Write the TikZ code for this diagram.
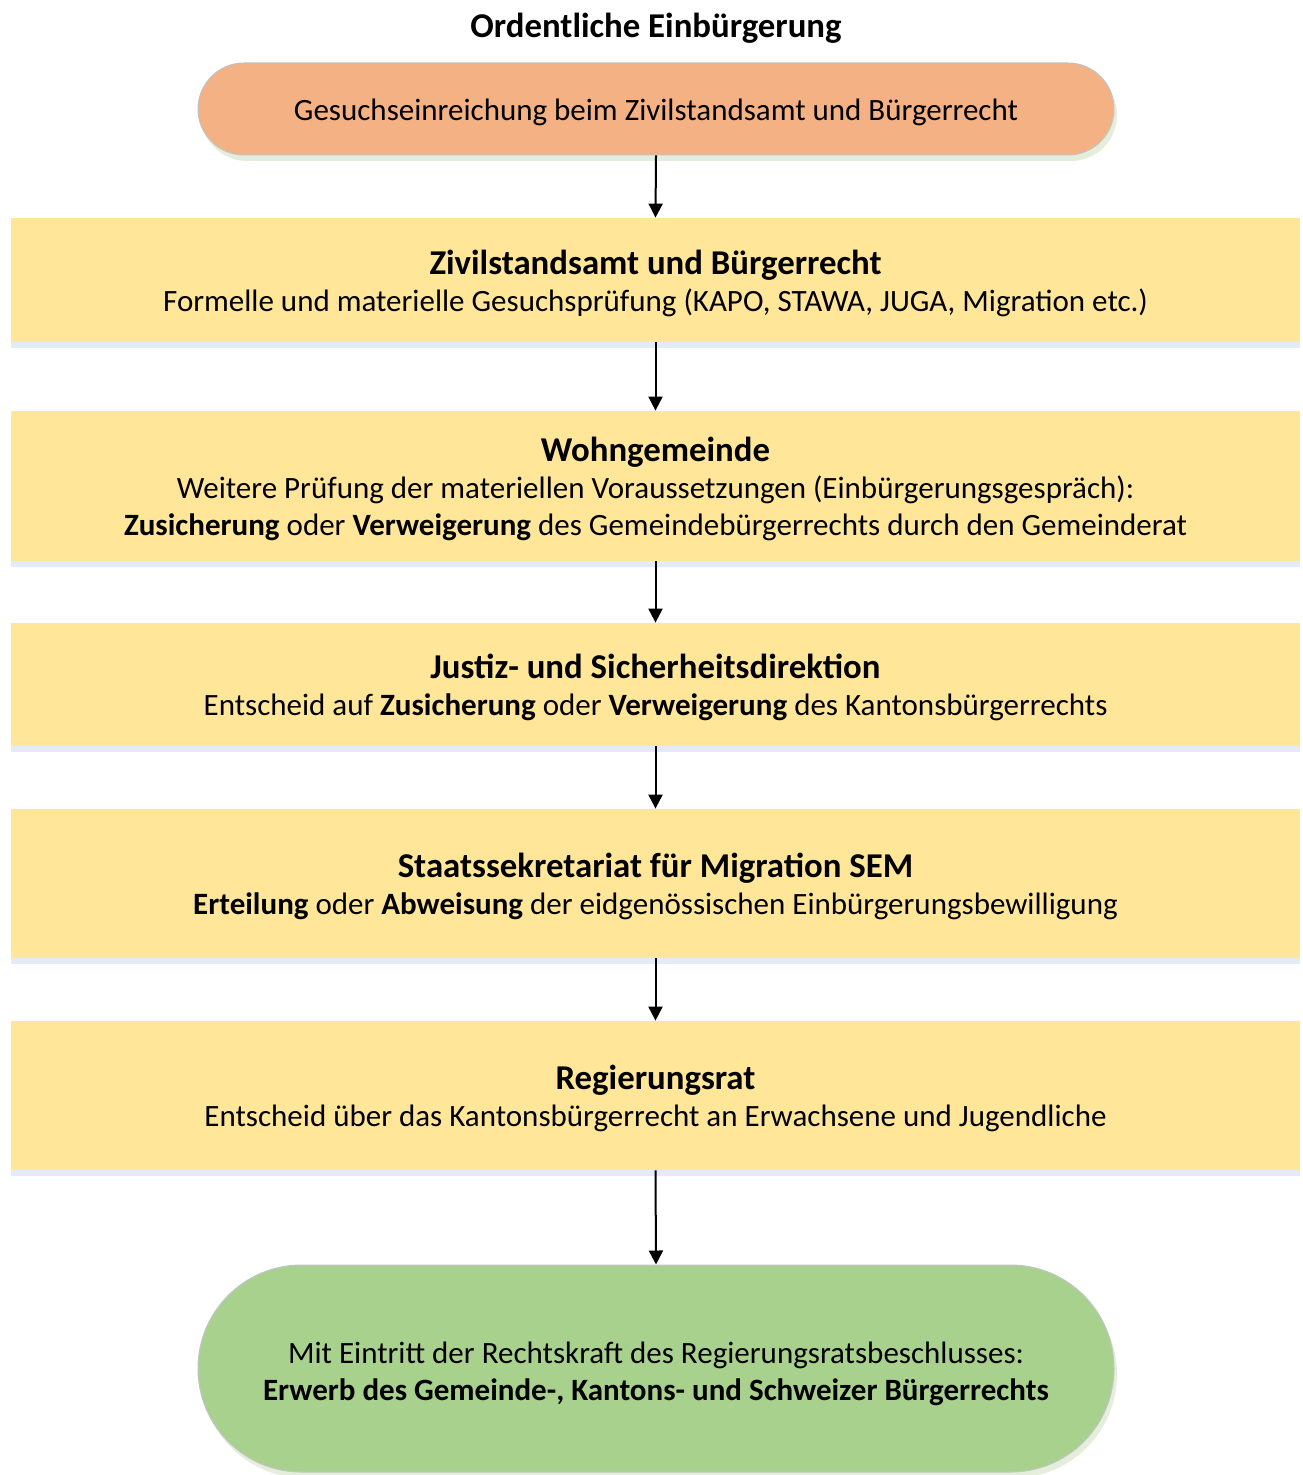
\documentclass[tikz,border=0pt]{standalone}
\usepackage{fontspec}
\setmainfont{Carlito}
\usetikzlibrary{shapes.misc,shadows,arrows.meta}
\definecolor{boxfill}{HTML}{FFE699}
\definecolor{startfill}{HTML}{F4B183}
\definecolor{endfill}{HTML}{A9D18E}
\definecolor{pillborder}{HTML}{BFC4C8}
\definecolor{blueshadow}{HTML}{E2EBF6}
\definecolor{greenshadow}{HTML}{E4EEDB}
\newcommand{\bodyfont}{\fontsize{15.5}{18.5}\selectfont}
\newcommand{\headfont}{\fontsize{17.4}{19.5}\selectfont\bfseries}
\newcommand{\lift}[1]{\rule{0pt}{#1}}
\tikzset{
  stepbox/.style={rectangle, fill=boxfill, draw=none, minimum width=644.5pt,
    align=center, font=\bodyfont, inner sep=0pt,
    drop shadow={shadow xshift=0pt, shadow yshift=-3pt, fill=blueshadow, opacity=1}},
  pillbox/.style={rounded rectangle, draw=pillborder, line width=0.5pt,
    minimum width=458pt, align=center, font=\bodyfont, inner sep=0pt,
    drop shadow={shadow xshift=1.5pt, shadow yshift=-3pt, fill=greenshadow, opacity=1}},
  flow/.style={line width=1pt, -{Triangle[length=7pt,width=7pt]}},
  titletext/.style={font=\headfont}
}
\begin{document}
\begin{tikzpicture}[x=0.5pt,y=-0.5pt]
\useasboundingbox (0,0) rectangle (1302,1475);
\node[titletext] (title) at (656,28) {Ordentliche Einbürgerung};
\node[pillbox, fill=startfill, minimum height=46pt] (start) at (656,109)
  {\lift{14pt}Gesuchseinreichung beim Zivilstandsamt und Bürgerrecht};
\node[stepbox, minimum height=62pt] (b1) at (655.5,280)
  {{\headfont\lift{15.5pt}Zivilstandsamt und Bürgerrecht}\\
   Formelle und materielle Gesuchsprüfung (KAPO, STAWA, JUGA, Migration etc.)};
\node[stepbox, minimum height=75pt] (b2) at (655.5,486)
  {{\headfont\lift{15.5pt}Wohngemeinde}\\
   Weitere Prüfung der materiellen Voraussetzungen (Einbürgerungsgespräch):\\
   \textbf{Zusicherung} oder \textbf{Verweigerung} des Gemeindebürgerrechts durch den Gemeinderat};
\node[stepbox, minimum height=61.5pt] (b3) at (655.5,684.5)
  {{\headfont\lift{15.5pt}Justiz- und Sicherheitsdirektion}\\
   Entscheid auf \textbf{Zusicherung} oder \textbf{Verweigerung} des Kantonsbürgerrechts};
\node[stepbox, minimum height=74.5pt] (b4) at (655.5,883.5)
  {{\headfont\lift{15.5pt}Staatssekretariat für Migration SEM}\\
   \textbf{Erteilung} oder \textbf{Abweisung} der eidgenössischen Einbürgerungsbewilligung};
\node[stepbox, minimum height=74.5pt] (b5) at (655.5,1095.5)
  {{\headfont\lift{15.5pt}Regierungsrat}\\
   Entscheid über das Kantonsbürgerrecht an Erwachsene und Jugendliche};
\node[pillbox, fill=endfill, minimum height=103.5pt] (end) at (656,1368.5)
  {\lift{16pt}Mit Eintritt der Rechtskraft des Regierungsratsbeschlusses:\\
   \textbf{Erwerb des Gemeinde-, Kantons- und Schweizer Bürgerrechts}};
\draw[flow] (start.south) -- (b1.north);
\draw[flow] (b1.south) -- (b2.north);
\draw[flow] (b2.south) -- (b3.north);
\draw[flow] (b3.south) -- (b4.north);
\draw[flow] (b4.south) -- (b5.north);
\draw[flow] (b5.south) -- (end.north);
\end{tikzpicture}
\end{document}
